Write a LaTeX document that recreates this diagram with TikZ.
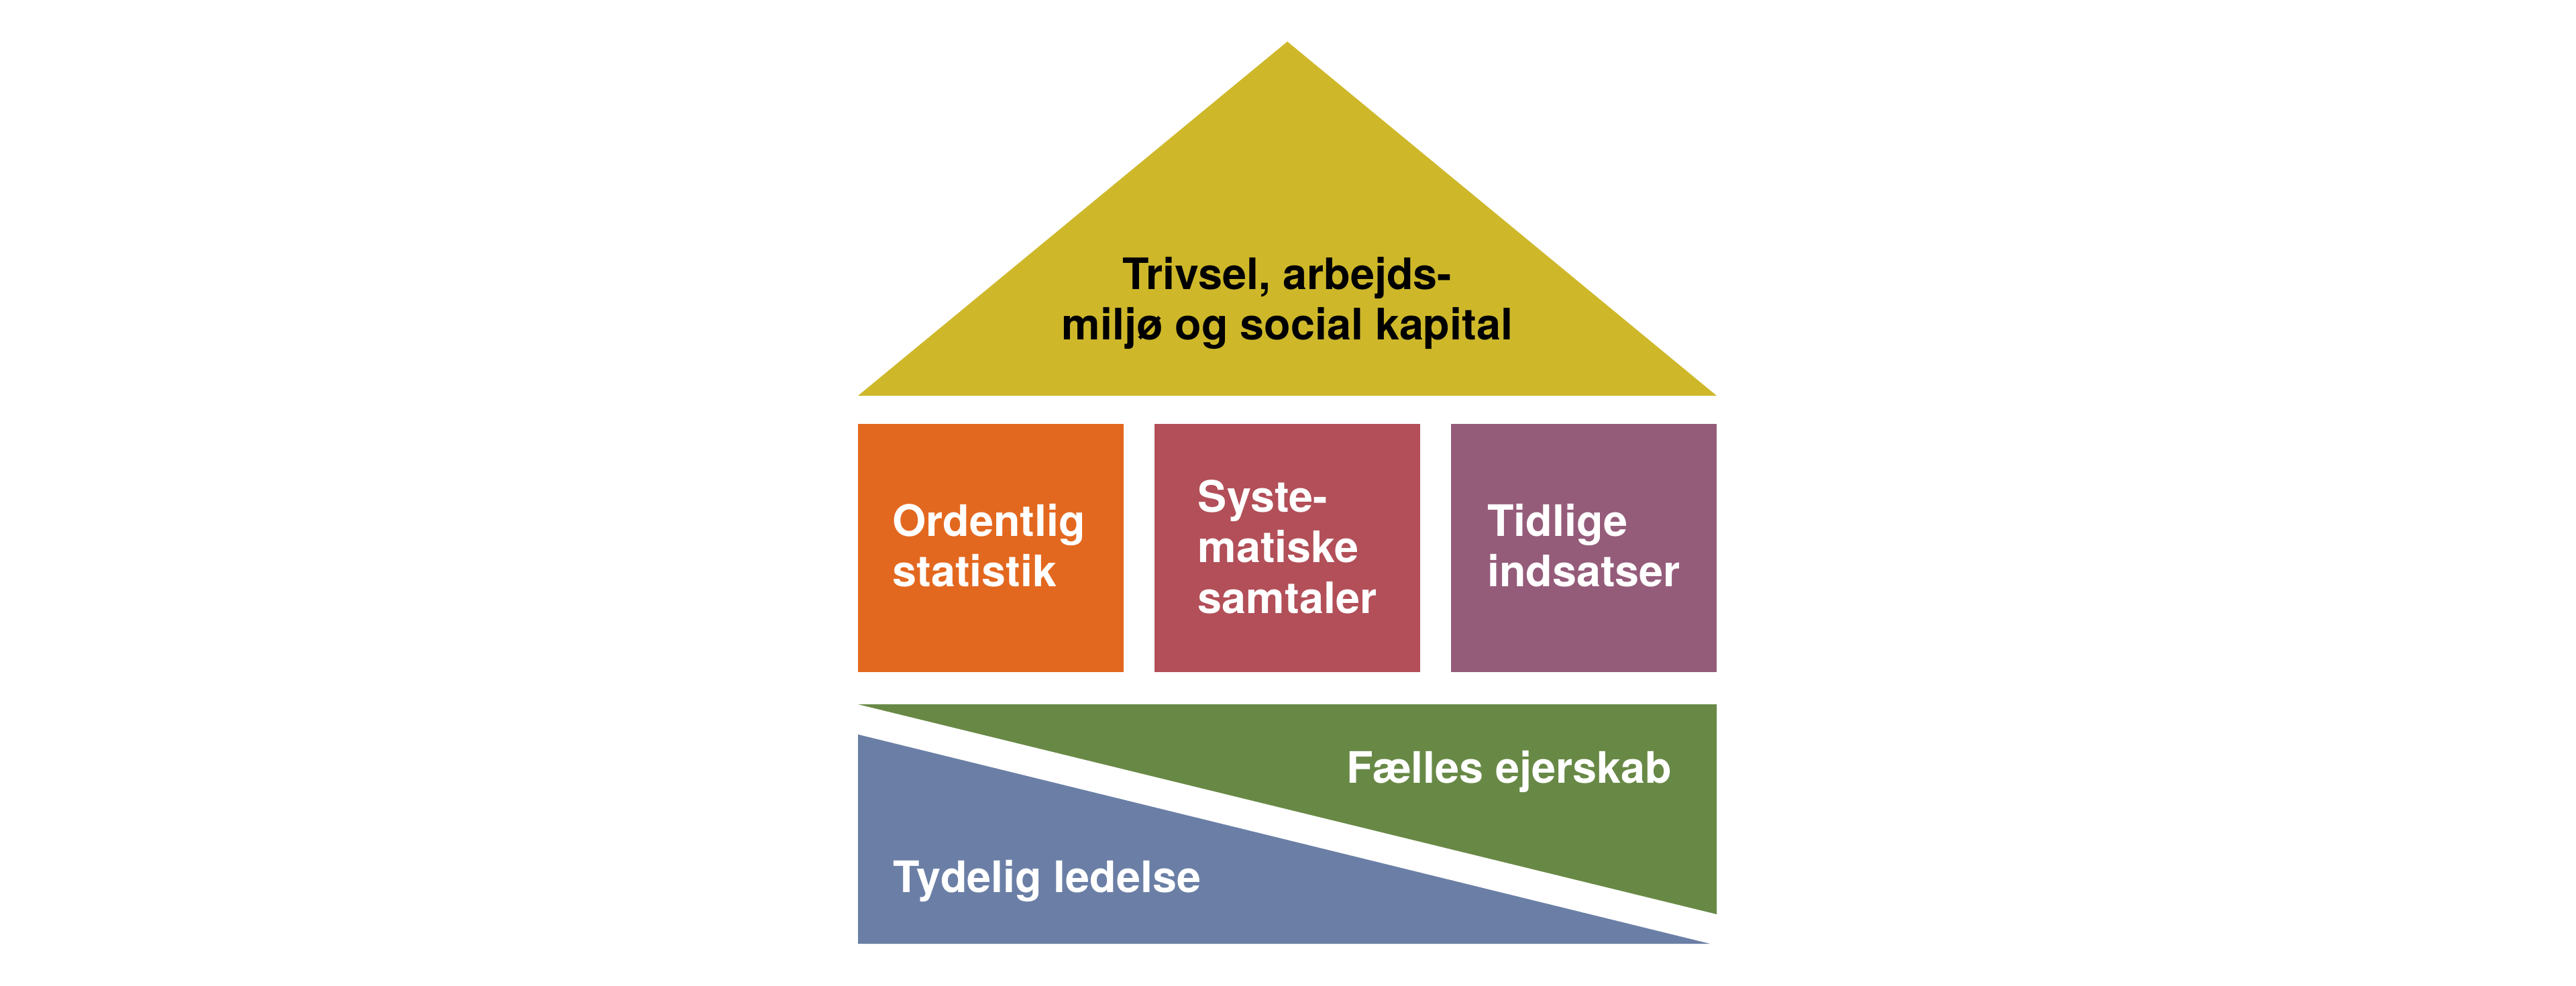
\documentclass[tikz,border=0pt]{standalone}
\usepackage{fontspec}
\setmainfont{TeX Gyre Heros}
\usepackage{xcolor}
\usepackage{tikz}

\definecolor{roofyellow}{RGB}{206,184,42}
\definecolor{statorange}{RGB}{227,104,31}
\definecolor{talkrose}{RGB}{178,79,88}
\definecolor{effortplum}{RGB}{149,92,122}
\definecolor{owngreen}{RGB}{104,137,70}
\definecolor{leadblue}{RGB}{107,127,166}

\begin{document}
\begin{tikzpicture}[
    label/.style={font=\bfseries\fontsize{18.4}{21.5}\selectfont,inner sep=0pt},
    darklabel/.style={label,text=black,align=center},
    lightlabel/.style={label,text=white,align=left}]
  \useasboundingbox[fill=white] (0,0) rectangle (38.4,-14.7);
  % roof
  \fill[roofyellow] (12.79,-5.90) -- (19.19,-0.62) -- (25.59,-5.90) -- cycle;
  \node[darklabel] (trivsel) at (19.19,-4.52) {Trivsel, arbejds-\\miljø og social kapital};
  % pillars
  \fill[statorange] (12.79,-6.32) rectangle (16.75,-10.02);
  \fill[talkrose] (17.21,-6.32) rectangle (21.17,-10.02);
  \fill[effortplum] (21.63,-6.32) rectangle (25.59,-10.02);
  \node[lightlabel] (statistik) at (14.74,-8.13) {Ordentlig\\statistik};
  \node[lightlabel] (samtaler) at (19.19,-8.15) {Syste-\\matiske\\samtaler};
  \node[lightlabel] (indsatser) at (23.61,-8.13) {Tidlige\\indsatser};
  % foundation
  \fill[owngreen] (12.79,-10.50) -- (25.59,-10.50) -- (25.59,-13.63) -- cycle;
  \fill[leadblue] (12.79,-10.95) -- (12.79,-14.07) -- (25.49,-14.07) -- cycle;
  \node[lightlabel,anchor=base east] (ejerskab) at (24.93,-11.67) {Fælles ejerskab};
  \node[lightlabel,anchor=base west] (ledelse) at (13.31,-13.30) {Tydelig ledelse};
\end{tikzpicture}
\end{document}
